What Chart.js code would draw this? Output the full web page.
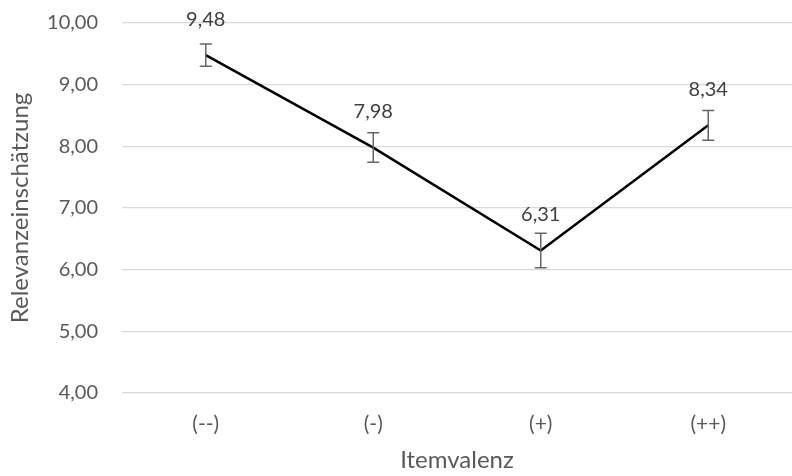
<!DOCTYPE html>
<html>
<head>
<meta charset="utf-8">
<script src="https://cdn.jsdelivr.net/npm/chart.js@4"></script>
<style>
  html, body { margin: 0; padding: 0; background: #fff; }
  #wrap { width: 792px; height: 476px; position: relative; }
</style>
</head>
<body>
<div id="wrap"><canvas id="myChart"></canvas></div>
<script>
// chart data
const categories = ['(--)', '(-)', '(+)', '(++)'];
const means = [9.48, 7.98, 6.31, 8.34];
const errors = [0.18, 0.24, 0.28, 0.24];
const yTicks = [4, 5, 6, 7, 8, 9, 10];

const fontFamily = 'Lato, "Open Sans", sans-serif';
const fmt = v => v.toFixed(2).replace('.', ',');

// draws error bars and value labels using the chart scales
const errorBarPlugin = {
    id: 'errorBars',
    afterDatasetsDraw(chart) {
        const ctx = chart.ctx;
        const xs = chart.scales.x;
        const ys = chart.scales.y;
        ctx.save();
        ctx.strokeStyle = '#666666';
        ctx.lineWidth = 1.5;
        means.forEach((m, i) => {
            const x = xs.getPixelForValue(i);
            const top = ys.getPixelForValue(m + errors[i]);
            const bot = ys.getPixelForValue(m - errors[i]);
            ctx.beginPath();
            ctx.moveTo(x, top); ctx.lineTo(x, bot);
            ctx.moveTo(x - 6, top); ctx.lineTo(x + 6, top);
            ctx.moveTo(x - 6, bot); ctx.lineTo(x + 6, bot);
            ctx.stroke();
        });
        ctx.fillStyle = '#404040';
        ctx.font = '20px ' + fontFamily;
        ctx.textAlign = 'center';
        ctx.textBaseline = 'middle';
        means.forEach((m, i) => {
            const x = xs.getPixelForValue(i);
            const y = ys.getPixelForValue(m);
            ctx.fillText(fmt(m), x, y - 36);
        });
        ctx.restore();
    }
};

document.addEventListener('DOMContentLoaded', function () {
    const ctx = document.getElementById('myChart');

    new Chart(ctx, {
        type: 'line',
        data: {
            labels: categories,
            datasets: [{
                data: means,
                borderColor: '#000000',
                borderWidth: 2.5,
                pointRadius: 0,
                fill: false,
                tension: 0
            }]
        },
        options: {
            responsive: true,
            maintainAspectRatio: false,
            animation: false,
            layout: { padding: { top: 23, right: 0, left: 0, bottom: 0 } },
            plugins: {
                legend: { display: false },
                tooltip: { enabled: false }
            },
            scales: {
                x: {
                    offset: true,
                    grid: { display: false, drawTicks: false },
                    border: { display: false },
                    ticks: {
                        color: '#595959',
                        padding: 19,
                        font: { family: fontFamily, size: 21 }
                    },
                    title: {
                        display: true,
                        text: 'Itemvalenz',
                        color: '#595959',
                        padding: { top: 4, bottom: 1 },
                        font: { family: fontFamily, size: 24 }
                    },
                    afterFit: s => { s.height = 83; s.paddingLeft = 0; s.paddingRight = 0; }
                },
                y: {
                    min: yTicks[0],
                    max: yTicks[yTicks.length - 1],
                    afterBuildTicks: s => { s.ticks = yTicks.map(v => ({ value: v })); },
                    grid: { color: '#d9d9d9', lineWidth: 1.3, drawTicks: false },
                    border: { display: false },
                    ticks: {
                        color: '#595959',
                        padding: 24,
                        font: { family: fontFamily, size: 20 },
                        callback: v => fmt(v)
                    },
                    title: {
                        display: true,
                        text: 'Relevanzeinschätzung',
                        color: '#595959',
                        padding: { top: 6, bottom: 0 },
                        font: { family: fontFamily, size: 24 }
                    },
                    afterFit: s => { s.width = 122; s.paddingTop = 0; s.paddingBottom = 0; }
                }
            }
        },
        plugins: [errorBarPlugin]
    });
});
</script>
</body>
</html>
